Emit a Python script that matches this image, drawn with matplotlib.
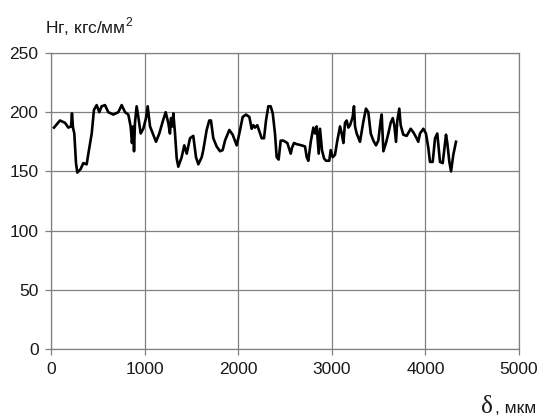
import matplotlib
matplotlib.use('Agg')
from matplotlib import pyplot as plt

# data
delta = [32, 96, 150, 185, 214, 224, 235, 249, 267, 281, 317, 345, 381, 399,
         435, 459, 488, 516, 541, 577, 612, 666, 719, 755, 791, 826, 851, 865,
         879, 887, 897, 915, 933, 958, 986, 1015, 1033, 1058, 1093, 1122, 1157,
         1193, 1225, 1253, 1271, 1282, 1296, 1307, 1325, 1343, 1360, 1396, 1424,
         1450, 1485, 1520, 1549, 1574, 1610, 1627, 1663, 1691, 1709, 1734, 1770,
         1806, 1834, 1859, 1905, 1941, 1984, 2012, 2048, 2083, 2119, 2144, 2162,
         2180, 2204, 2251, 2276, 2297, 2322, 2347, 2369, 2393, 2411, 2432, 2454,
         2482, 2525, 2561, 2575, 2596, 2625, 2678, 2714, 2732, 2749, 2775, 2803,
         2821, 2839, 2860, 2874, 2895, 2917, 2938, 2973, 2988, 3010, 3034, 3059,
         3088, 3106, 3124, 3141, 3159, 3177, 3195, 3223, 3237, 3248, 3266, 3301,
         3337, 3365, 3390, 3416, 3444, 3472, 3497, 3522, 3533, 3551, 3579, 3604,
         3629, 3651, 3668, 3686, 3700, 3721, 3736, 3764, 3800, 3843, 3871, 3900,
         3924, 3942, 3978, 4006, 4031, 4049, 4078, 4103, 4127, 4156, 4185, 4220,
         4234, 4256, 4274, 4298, 4327]
hg = [187, 193, 191, 187, 188, 199, 187, 182, 157, 149, 152, 157, 156, 165,
      182, 202, 206, 200, 205, 206, 200, 198, 200, 206, 200, 198, 188, 174,
      188, 167, 191, 205, 196, 182, 186, 195, 205, 188, 181, 175, 182,
      192, 200, 191, 182, 195, 188, 199, 182, 161, 154, 162, 172,
      165, 178, 180, 162, 156, 162, 168, 185, 193, 193, 178, 171,
      167, 168, 176, 185, 181, 172, 182, 196, 198, 196, 186, 189,
      187, 189, 178, 178, 193, 205, 205, 199, 182, 162, 160, 176,
      176, 174, 165, 170, 174, 173, 172, 171, 162, 159, 175, 187,
      182, 188, 165, 186, 168, 161, 159, 159, 168, 162, 164, 176,
      188, 182, 174, 191, 193, 187, 189, 196, 205, 188, 182, 175,
      192, 203, 200, 182, 176, 172, 176, 193, 198, 167, 174, 182,
      191, 195, 189, 175, 193, 203, 189, 181, 180, 186, 183, 179,
      175, 182, 186, 182, 170, 158, 158, 178, 182, 158, 157, 181,
      174, 158, 150, 164, 175]

x_ticks = [0, 1000, 2000, 3000, 4000, 5000]
y_ticks = [0, 50, 100, 150, 200, 250]

plt.rcParams['font.family'] = ['Liberation Sans', 'DejaVu Sans']
grey = '#808080'
txt = '#1a1a1a'

fig = plt.figure(figsize=(5.42, 4.17), dpi=100)
ax = fig.add_axes([51/542, 1 - 349/417, 468/542, 296/417])

ax.plot(delta, hg, color='black', linewidth=1.9)

ax.set_xlim(0, 5000)
ax.set_ylim(0, 250)
ax.set_xticks(x_ticks)
ax.set_yticks(y_ticks)
ax.grid(True, color=grey, linewidth=0.9)
ax.set_axisbelow(True)
for sp in ax.spines.values():
    sp.set_color(grey)
    sp.set_linewidth(0.9)
ax.tick_params(direction='out', length=4, width=0.9, color=grey,
               labelsize=12.5, labelcolor=txt, pad=5)

fig.text(45/542, 1 - 33/417, r'Hг, кгс/мм$^{\mathregular{2}}$', fontsize=12.5,
         color=txt, ha='left', va='baseline')
fig.text(481/542, 1 - 413/417, 'δ', fontsize=18, color=txt,
         family=['Liberation Serif', 'DejaVu Serif'], ha='left', va='baseline')
fig.text(495/542, 1 - 413/417, ', мкм', fontsize=12.5, color=txt,
         ha='left', va='baseline')

plt.savefig('out.png', dpi=100)
